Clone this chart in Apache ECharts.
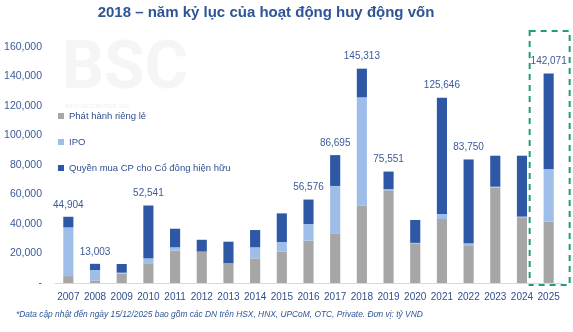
<!DOCTYPE html>
<html><head><meta charset="utf-8">
<script src="https://cdn.jsdelivr.net/npm/echarts@6/dist/echarts.min.js"></script>
<style>html,body{margin:0;padding:0;background:#fff}#c{width:573px;height:332px}</style>
</head><body><div id="c"></div>
<script>
const years = ['2007','2008','2009','2010','2011','2012','2013','2014','2015','2016','2017','2018','2019','2020','2021','2022','2023','2024','2025'];
const privatePlacement = [4700,1600,6300,12900,21900,21000,13000,16700,21200,28700,33700,52400,62800,26900,43400,25100,64600,44100,41600];
const ipo = [33000,7200,700,3800,2300,300,300,7500,6600,11300,32100,73500,900,300,3400,1800,700,900,35700];
const rights = [7204,4203,5900,35841,12600,8000,14700,11700,19400,16576,20895,19413,11851,15500,78846,56850,21000,41300,64771];
const totalLabels = ['44,904','13,003','','52,541','','','','','','56,576','86,695','145,313','75,551','','125,646','83,750','','','142,071'];
const yTicks = [0,20000,40000,60000,80000,100000,120000,140000,160000];

const chart = echarts.init(document.getElementById('c'));
const font = 'Liberation Sans, Arial, sans-serif';
const txtBlue = '#3c5a99';
chart.setOption({
  animation:false,
  title:{text:'2018 – năm kỷ lục của hoạt động huy động vốn',left:261,textAlign:'center',top:0,
    textStyle:{fontFamily:font,fontSize:15,fontWeight:'bold',color:'#2f5597'}},
  legend:{orient:'vertical',left:53,top:106,itemWidth:6,itemHeight:6,itemGap:16,
    icon:'rect',textStyle:{fontFamily:font,fontSize:9.5,color:'#2f4f8f'},
    data:['Phát hành riêng lẻ','IPO','Quyền mua CP cho Cổ đông hiện hữu']},
  grid:{left:55,right:11,top:47,bottom:49},
  xAxis:{type:'category',data:years,
    axisLine:{lineStyle:{color:'#d9d9d9'}},axisTick:{show:false},
    axisLabel:{interval:0,fontFamily:font,fontSize:10,color:'#2f4f8f',margin:9}},
  yAxis:{type:'value',min:0,max:160000,interval:20000,splitLine:{show:false},
    axisLine:{show:false},axisTick:{show:false},
    axisLabel:{fontFamily:font,fontSize:10.5,color:txtBlue,margin:13,
      formatter:v=>v===0?'-':v.toLocaleString('en-US')}},
  series:[
    {name:'Phát hành riêng lẻ',type:'bar',stack:'t',barWidth:'38%',data:privatePlacement,itemStyle:{color:'#a6a6a6'}},
    {name:'IPO',type:'bar',stack:'t',data:ipo,itemStyle:{color:'#9fbde9'}},
    {name:'Quyền mua CP cho Cổ đông hiện hữu',type:'bar',stack:'t',data:rights,itemStyle:{color:'#2e58a6'},
      label:{show:true,position:'top',distance:7,fontFamily:font,fontSize:10,color:txtBlue,
        formatter:p=>totalLabels[p.dataIndex]}}
  ]
});
const last = years.length-1;
const x0 = chart.convertToPixel({xAxisIndex:0},years[last]);
const yb = chart.convertToPixel({yAxisIndex:0},0);
const yt = chart.convertToPixel({yAxisIndex:0},160000);
chart.setOption({graphic:[
  {type:'text',left:62,top:38,z:-10,style:{text:'BSC',fontFamily:'Roboto, sans-serif',fontSize:66,fontWeight:'bold',fill:'#f5f5f5'}},
  {type:'text',left:65,top:103,z:-10,style:{text:'BIDV SECURITIES JSC',fontFamily:font,fontSize:6,fill:'#f0f0f0'}},
  {type:'rect',shape:{x:x0-19,y:yt-16,width:40,height:yb-yt+18},
    style:{fill:'none',stroke:'#1f9e72',lineWidth:2,lineDash:[6,5]}},
  {type:'text',left:16,top:311,style:{text:'*Data cập nhật đến ngày 15/12/2025 bao gồm các DN trên HSX, HNX, UPCoM, OTC, Private. Đơn vị: tỷ VND',
    fontFamily:font,fontSize:8.4,fontStyle:'italic',fill:'#2f5597'}}
]});
</script></body></html>
